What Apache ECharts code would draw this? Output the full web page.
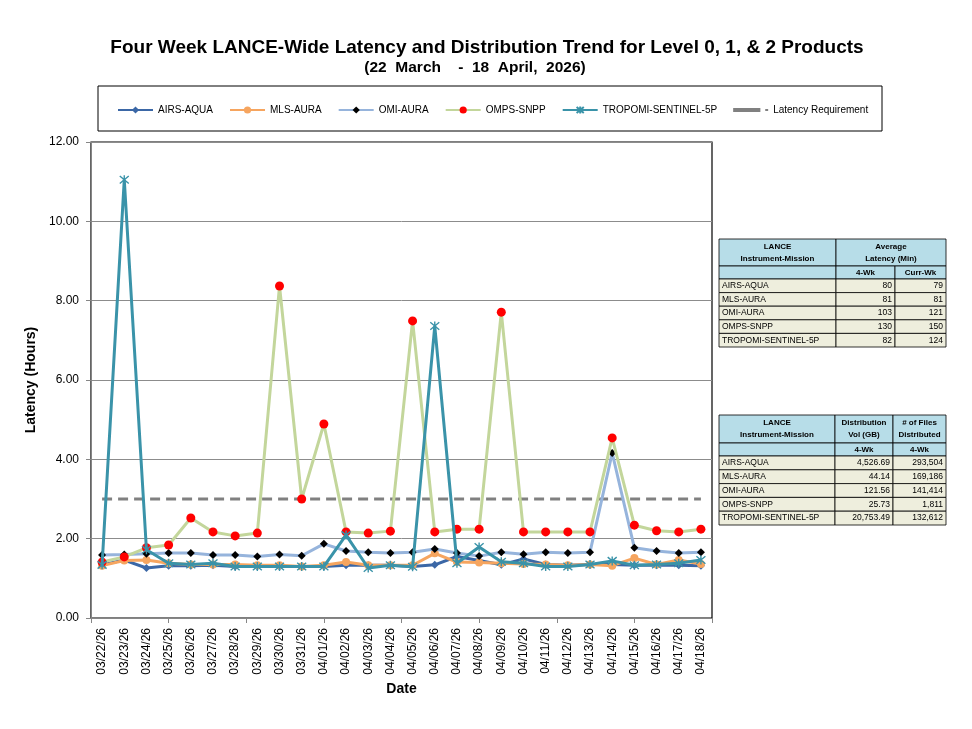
<!DOCTYPE html>
<html>
<head>
<meta charset="utf-8">
<script src="https://cdn.jsdelivr.net/npm/echarts@6/dist/echarts.min.js"></script>
<style>
html,body{margin:0;padding:0;background:#fff;}
#main{width:972px;height:729px;}
</style>
</head>
<body>
<div id="main"></div>
<script>
// ---------- DATA ----------
var dates = ['03/22/26','03/23/26','03/24/26','03/25/26','03/26/26','03/27/26','03/28/26','03/29/26','03/30/26','03/31/26',
             '04/01/26','04/02/26','04/03/26','04/04/26','04/05/26','04/06/26','04/07/26','04/08/26','04/09/26','04/10/26',
             '04/11/26','04/12/26','04/13/26','04/14/26','04/15/26','04/16/26','04/17/26','04/18/26'];
var airsAqua = [1.34,1.46,1.26,1.32,1.32,1.33,1.30,1.30,1.30,1.30,1.30,1.33,1.33,1.33,1.30,1.34,1.55,1.45,1.34,1.49,1.35,1.33,1.35,1.35,1.33,1.33,1.33,1.32];
var mlsAura = [1.32,1.45,1.46,1.38,1.35,1.35,1.35,1.33,1.33,1.30,1.33,1.41,1.33,1.33,1.33,1.63,1.41,1.40,1.38,1.36,1.35,1.33,1.35,1.32,1.51,1.35,1.46,1.36];
var omiAura = [1.59,1.60,1.62,1.64,1.64,1.59,1.59,1.55,1.60,1.57,1.87,1.69,1.66,1.64,1.66,1.74,1.64,1.56,1.66,1.61,1.66,1.64,1.66,4.16,1.77,1.69,1.64,1.66];
var ompsSnpp = [1.41,1.54,1.77,1.84,2.52,2.17,2.07,2.14,8.37,3.00,4.89,2.17,2.14,2.19,7.49,2.17,2.24,2.24,7.71,2.17,2.17,2.17,2.17,4.54,2.34,2.20,2.17,2.24];
var tropomi = [1.34,11.05,1.72,1.38,1.35,1.38,1.30,1.30,1.30,1.30,1.30,2.09,1.26,1.33,1.29,7.36,1.38,1.79,1.42,1.38,1.30,1.30,1.35,1.44,1.33,1.35,1.38,1.46];
var latencyReq = [3,3,3,3,3,3,3,3,3,3,3,3,3,3,3,3,3,3,3,3,3,3,3,3,3,3,3,3];
var yTicks = {min:0, max:12, interval:2};

var missions = ['AIRS-AQUA','MLS-AURA','OMI-AURA','OMPS-SNPP','TROPOMI-SENTINEL-5P'];
var latency4Wk = ['80','81','103','130','82'];
var latencyCurrWk = ['79','81','121','150','124'];
var distVol4Wk = ['4,526.69','44.14','121.56','25.73','20,753.49'];
var files4Wk = ['293,504','169,186','141,414','1,811','132,612'];

var titleText = 'Four Week LANCE-Wide Latency and Distribution Trend for Level 0, 1, & 2 Products';
var subtitleText = '(22  March    -  18  April,  2026)';

// ---------- TABLES (graphic) ----------
var FONT = '"Liberation Sans", Arial, sans-serif';
var HEAD_FILL = '#b7dde8';
var BODY_FILL = '#eeeedd';
function rect(x, y, w, h, fill) {
  return {type:'rect', shape:{x:x, y:y, width:w, height:h},
          style:{fill:fill, stroke:'#000', lineWidth:0.8}, silent:true};
}
function txt(x, y, s, align, bold, size) {
  return {type:'text', x:x, y:y, silent:true,
          style:{text:s, fill:'#000', font:(bold?'bold ':'') + (size||8.5) + 'px ' + FONT,
                 textAlign:align, textVerticalAlign:'middle'}};
}
function buildTable(cols, yTop, yH1, yH2, rowH, head1, head2, col2, col3, merge1) {
  var els = [];
  if (merge1) {
    els.push(rect(cols[0], yTop, cols[1]-cols[0], yH1-yTop, HEAD_FILL));
    els.push(rect(cols[1], yTop, cols[3]-cols[1], yH1-yTop, HEAD_FILL));
  } else {
    for (var c = 0; c < 3; c++) els.push(rect(cols[c], yTop, cols[c+1]-cols[c], yH1-yTop, HEAD_FILL));
  }
  for (var c = 0; c < 3; c++) els.push(rect(cols[c], yH1, cols[c+1]-cols[c], yH2-yH1, HEAD_FILL));
  var mid1 = (yTop + yH1) / 2;
  els.push(txt((cols[0]+cols[1])/2, mid1-6, head1[0][0], 'center', true, 8));
  els.push(txt((cols[0]+cols[1])/2, mid1+6, head1[0][1], 'center', true, 8));
  if (merge1) {
    els.push(txt((cols[1]+cols[3])/2, mid1-6, head1[1][0], 'center', true, 8));
    els.push(txt((cols[1]+cols[3])/2, mid1+6, head1[1][1], 'center', true, 8));
  } else {
    for (var c = 1; c < 3; c++) {
      els.push(txt((cols[c]+cols[c+1])/2, mid1-6, head1[c][0], 'center', true, 8));
      els.push(txt((cols[c]+cols[c+1])/2, mid1+6, head1[c][1], 'center', true, 8));
    }
  }
  var mid2 = (yH1 + yH2) / 2;
  els.push(txt((cols[1]+cols[2])/2, mid2, head2[0], 'center', true, 8));
  els.push(txt((cols[2]+cols[3])/2, mid2, head2[1], 'center', true, 8));
  for (var r = 0; r < missions.length; r++) {
    var y = yH2 + r*rowH;
    for (var c = 0; c < 3; c++) els.push(rect(cols[c], y, cols[c+1]-cols[c], rowH, BODY_FILL));
    els.push(txt(cols[0]+3, y+rowH/2, missions[r], 'left', false));
    els.push(txt(cols[2]-3, y+rowH/2, col2[r], 'right', false));
    els.push(txt(cols[3]-3, y+rowH/2, col3[r], 'right', false));
  }
  return els;
}
var table1 = buildTable([719,836,895,946], 239, 266, 279, 13.6,
  [['LANCE','Instrument-Mission'],['Average','Latency (Min)']], ['4-Wk','Curr-Wk'],
  latency4Wk, latencyCurrWk, true);
var table2 = buildTable([719,835,893,946], 415, 443, 456, 13.8,
  [['LANCE','Instrument-Mission'],['Distribution','Vol (GB)'],['# of Files','Distributed']], ['4-Wk','4-Wk'],
  distVol4Wk, files4Wk, false);

var graphics = [
  {type:'text', x:487, y:48, silent:true,
   style:{text:titleText, fill:'#000', font:'bold 19px ' + FONT, textAlign:'center', textVerticalAlign:'middle'}},
  {type:'text', x:475, y:68, silent:true,
   style:{text:subtitleText, fill:'#000', font:'bold 15.5px ' + FONT, textAlign:'center', textVerticalAlign:'middle'}},
  {type:'rect', shape:{x:98, y:86, width:784, height:45}, style:{fill:'none', stroke:'#000', lineWidth:1}, silent:true}
].concat(table1, table2);

// ---------- CHART ----------
var chart = echarts.init(document.getElementById('main'), null, {renderer:'canvas'});
var asterisk = 'path://M0,0L10,10M10,0L0,10M5,-1L5,11';
function lineSeries(name, data, color, symbol, symSize, symColor, z) {
  return {
    name:name, type:'line', data:data, xAxisIndex:0, yAxisIndex:0,
    symbol:symbol, symbolSize:symSize, showSymbol:true, z:z,
    lineStyle:{color:color, width:3},
    itemStyle:{color:symColor, borderColor:symColor, borderWidth: symbol===asterisk?1.4:0},
    emphasis:{disabled:true}, animation:false
  };
}
var option = {
  animation:false,
  textStyle:{fontFamily:FONT},
  graphic:graphics,
  legend:{
    left:117, top:105, padding:0, itemWidth:35, itemHeight:9, itemGap:16,
    textStyle:{fontSize:10, color:'#000', fontFamily:FONT},
    data:['AIRS-AQUA','MLS-AURA','OMI-AURA','OMPS-SNPP','TROPOMI-SENTINEL-5P',
          {name:'Latency Requirement', icon:'path://M0,3L28,3L28,7L0,7Z M33,4L36,4L36,6L33,6Z'}]
  },
  grid:{left:91, right:260, top:142, bottom:111, show:true, borderColor:'#000', borderWidth:1.2, containLabel:false},
  xAxis:[{
    type:'category', data:dates, boundaryGap:true,
    axisLine:{lineStyle:{color:'#868686'}},
    axisTick:{show:false},
    axisLabel:{rotate:90, interval:0, fontSize:12, color:'#000', margin:10},
    name:'Date', nameLocation:'middle', nameGap:62,
    nameTextStyle:{fontSize:14, fontWeight:'bold', color:'#000'}
  },{
    type:'value', min:0, max:8, interval:1, position:'bottom',
    axisLine:{show:false}, axisLabel:{show:false}, splitLine:{show:false},
    axisTick:{show:true, length:5, lineStyle:{color:'#868686'}}
  }],
  yAxis:{
    type:'value', min:yTicks.min, max:yTicks.max, interval:yTicks.interval,
    axisLine:{show:true, lineStyle:{color:'#868686'}},
    axisTick:{show:true, length:5, lineStyle:{color:'#868686'}},
    axisLabel:{fontSize:12, color:'#000', margin:12, formatter:function(v){return v.toFixed(2);}},
    splitLine:{lineStyle:{color:'#8c8c8c', width:1}},
    name:'Latency (Hours)', nameLocation:'middle', nameGap:50,
    nameTextStyle:{fontSize:14, fontWeight:'bold', color:'#000'}
  },
  series:[
    lineSeries('AIRS-AQUA', airsAqua, '#3b67a6', 'diamond', 8, '#3b67a6', 2),
    lineSeries('MLS-AURA', mlsAura, '#f6a55f', 'circle', 8, '#f6a55f', 3),
    lineSeries('OMI-AURA', omiAura, '#96b4dc', 'diamond', 8, '#000000', 4),
    lineSeries('OMPS-SNPP', ompsSnpp, '#c3d69b', 'circle', 9, '#ff0000', 5),
    lineSeries('TROPOMI-SENTINEL-5P', tropomi, '#3a93a9', asterisk, 9, '#3a93a9', 6),
    {
      name:'Latency Requirement', type:'line', data:latencyReq, symbol:'none', z:1,
      lineStyle:{color:'#808080', width:3, type:[10,6]},
      itemStyle:{color:'#808080'}, emphasis:{disabled:true}
    }
  ]
};
chart.setOption(option);
</script>
</body>
</html>
